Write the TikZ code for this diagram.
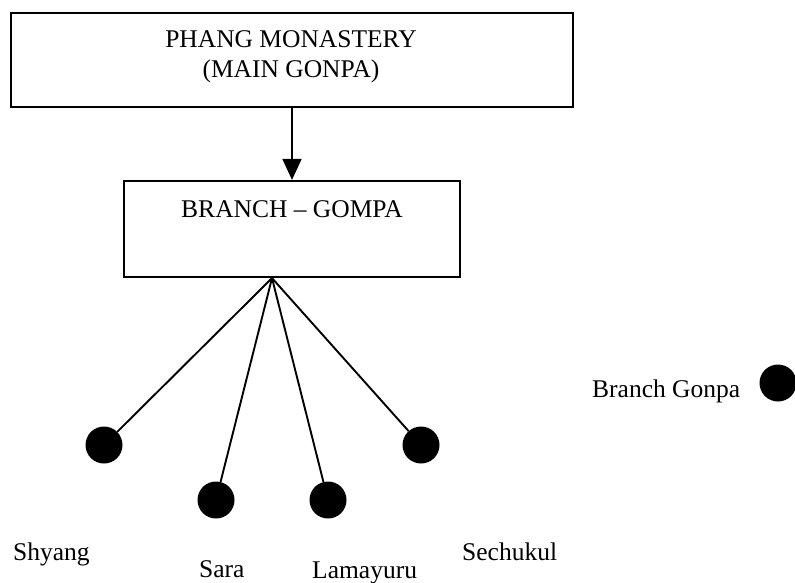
\documentclass[tikz,border=0pt]{standalone}
\usepackage{fontspec}
\setmainfont{Liberation Serif}
\usetikzlibrary{arrows.meta}
\begin{document}
\begin{tikzpicture}[x=1pt,y=-1pt,
  box/.style={draw=black, line width=2.2pt, rectangle, inner sep=0pt},
  dot/.style={circle, fill=black, draw=none, minimum size=37pt, inner sep=0pt},
  conn/.style={draw=black, line width=1.9pt},
  txt/.style={font=\fontsize{25.5}{30}\selectfont, inner sep=0pt}]
\useasboundingbox (0,0) rectangle (795,583);
% boxes
\node[box, minimum width=562pt, minimum height=94pt] (main) at (292,60) {};
\node[txt, anchor=base] (mainA) at (291,48) {PHANG MONASTERY};
\node[txt, anchor=base] (mainB) at (291,78) {(MAIN GONPA)};
\node[box, minimum width=336pt, minimum height=96pt] (branch) at (292,229) {};
\node[txt, anchor=base] (branchT) at (292,217) {BRANCH -- GOMPA};
% arrow
\draw[conn, -{Triangle[width=19pt,length=21pt]}] (main.south) -- (branch.north);
% branch gonpas
\coordinate (hub) at ([xshift=-20pt]branch.south);
\node[dot] (shy) at (104,445) {};
\node[dot] (sara) at (216,500) {};
\node[dot] (lama) at (328,500) {};
\node[dot] (sech) at (421,445) {};
\draw[conn] (hub) -- (shy);
\draw[conn] (hub) -- (sara);
\draw[conn] (hub) -- (lama);
\draw[conn] (hub) -- (sech);
% labels
\node[txt, anchor=base west] (shyL) at (13,560) {Shyang};
\node[txt, anchor=base west] (saraL) at (199,577) {Sara};
\node[txt, anchor=base west] (lamaL) at (312,578) {Lamayuru};
\node[txt, anchor=base west] (sechL) at (462,560) {Sechukul};
% legend
\node[txt, anchor=base west] (legT) at (592,397) {Branch Gonpa};
\node[dot] (legD) at (778,383) {};
\end{tikzpicture}
\end{document}
